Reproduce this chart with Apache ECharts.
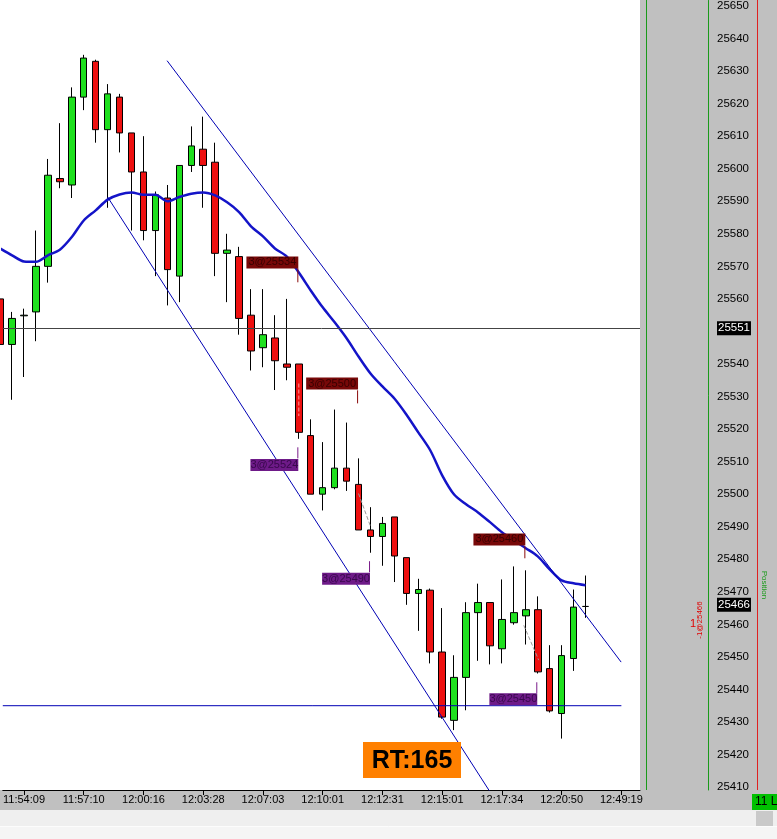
<!DOCTYPE html>
<html>
<head>
<meta charset="utf-8">
<style>
html, body { margin: 0; padding: 0; background: #fff; }
#chart { width: 777px; height: 839px; }
</style>
<script src="https://cdn.jsdelivr.net/npm/echarts@6/dist/echarts.min.js"></script>
</head>
<body>
<div id="chart"></div>
<script>
// time labels and the bar slots they sit on
var timeLabels = ['11:54:09', '11:57:10', '12:00:16', '12:03:28', '12:07:03', '12:10:01',
    '12:12:31', '12:15:01', '12:17:34', '12:20:50', '12:49:19'];
var labelSlots = [2, 7, 12, 17, 22, 27, 32, 37, 42, 47, 52];

var opens = [25560, 25546, 25554.8, 25556, 25570, 25597, 25595, 25622, 25633, 25612,
    25622, 25611, 25599, 25581, 25591, 25567, 25601, 25606, 25602, 25574,
    25573, 25555, 25545, 25548, 25540, 25540, 25518, 25500, 25502, 25508,
    25503, 25489, 25487, 25493, 25480.5, 25469.5, 25470.5, 25451.5, 25430.5, 25443.7,
    25463.6, 25466.7, 25452.5, 25460.5, 25462.6, 25464.5, 25446.4, 25432.6, 25449.5, 25465.5];
var closes = [25546, 25554, 25555, 25570, 25598, 25596, 25622, 25634, 25612, 25623,
    25611, 25599, 25581, 25592, 25569, 25601, 25607, 25601, 25574, 25575,
    25554, 25544, 25549, 25541, 25539, 25519, 25500, 25502, 25508, 25504,
    25489, 25487, 25491, 25481, 25469.5, 25470.7, 25451.5, 25431.5, 25443.7, 25463.6,
    25466.7, 25453.4, 25461.5, 25463.6, 25464.5, 25445.4, 25433.4, 25450.4, 25465.3, 25465.5];
var lows = [25540, 25529, 25536, 25547, 25565, 25594, 25591, 25618, 25608, 25588,
    25605, 25581, 25578, 25567, 25558, 25559, 25599, 25588, 25567, 25559,
    25549, 25538, 25539, 25532, 25535, 25517, 25500, 25495, 25501.5, 25501,
    25489, 25482, 25478, 25473, 25466, 25458, 25448, 25431, 25427.5, 25433.6,
    25448.8, 25447.7, 25448, 25459.9, 25453.8, 25444.9, 25432.9, 25424.9, 25445.7, 25462];
var highs = [25563, 25556, 25557, 25581, 25603, 25614, 25625, 25635, 25633.5, 25626,
    25623, 25611, 25610, 25593, 25595, 25601, 25613, 25616, 25608, 25580,
    25576, 25563, 25563, 25555, 25560, 25540, 25523, 25516, 25526, 25522,
    25511, 25496, 25493, 25493, 25480.5, 25474, 25471, 25465, 25450.5, 25466.8,
    25472.5, 25466.7, 25473.8, 25477.8, 25476.6, 25468.6, 25453.6, 25453.6, 25470.7, 25475];
var movingAvg = [25575.5, 25573.4, 25571.5, 25571.4, 25573.4, 25575.1, 25579.0, 25584.1, 25587.2, 25590.5,
    25592.1, 25592.7, 25592.0, 25592.0, 25590.0, 25591.3, 25592.3, 25592.7, 25591.8, 25589.7,
    25586.7, 25582.3, 25579.2, 25575.5, 25573.0, 25568.1, 25562.6, 25557.4, 25552.8, 25547.9,
    25542.3, 25537.1, 25533.1, 25529.4, 25524.5, 25519.0, 25513.5, 25505.8, 25499.9, 25496.9,
    25494.4, 25491.4, 25488.3, 25485.8, 25483.4, 25480.9, 25476.9, 25473.5, 25472.6, 25472.0];

var markPrice = 25551, lastPrice = 25466, supportPrice = 25435;
var channelUpper = [[13.975, 25633.2], [51.98, 25448.4]];
var channelLower = [[9.0, 25591.3], [41.5, 25405.7]];

// trade markers
var tradeText = ['3@25534', '3@25500', '3@25524', '3@25490', '3@25460', '3@25450'];
var tradeSide = ['sell', 'sell', 'buy', 'buy', 'sell', 'buy'];
var tradeSlot = [25, 30, 25, 31, 44, 45];
var tradeBoxPrice = [25571.2, 25534.0, 25509.0, 25474.0, 25486.1, 25437.0];
var tradeTick = [[25569.4, 25565.1], [25531.9, 25527.9], [25514.4, 25511.0],
    [25479.4, 25476.0], [25484.0, 25480.3], [25442.2, 25438.9]];
var tradeLinks = [[25, 25534, 25, 25524], [30, 25500.2, 31, 25490.1], [43.83, 25459.7, 45.08, 25449]];

var xMin = 0.225, xMax = 53.558;
var candles = opens.map(function (o, i) { return [i, o, closes[i], lows[i], highs[i]]; });
var maPoints = movingAvg.map(function (v, i) { return [i, v]; });

var font = 'Liberation Sans';
var sideColor = { sell: ['#780808', '#380000'], buy: ['#6e1a88', '#38084c'] };

var series = [];
series.push({
    type: 'candlestick',
    data: candles,
    encode: { x: 0, y: [1, 2, 3, 4] },
    barWidth: 7,
    itemStyle: {
        color: '#1ee01e', color0: '#ee1010',
        borderColor: '#000', borderColor0: '#000', borderColorDoji: '#000', borderWidth: 1
    },
    markLine: {
        symbol: 'none', silent: true, animation: false,
        data: [
            {
                yAxis: markPrice,
                lineStyle: { color: '#444', width: 1, type: 'solid' },
                label: { position: 'end', distance: 77, formatter: String(markPrice), color: '#fff',
                    backgroundColor: '#000', padding: [1, 1], fontSize: 11.5, fontFamily: font }
            },
            {
                yAxis: lastPrice,
                lineStyle: { color: 'rgba(0,0,0,0)', width: 0 },
                label: { position: 'end', distance: 77, formatter: String(lastPrice), color: '#fff',
                    backgroundColor: '#000', padding: [1, 1], fontSize: 11.5, fontFamily: font }
            }
        ]
    }
});
series.push({
    type: 'line', data: maPoints, smooth: 0.3, showSymbol: false,
    lineStyle: { color: '#1414c8', width: 2.5 }
});

function seg(points, color, width, type) {
    series.push({
        type: 'line', data: points, showSymbol: false, silent: true,
        lineStyle: { color: color, width: width, type: type || 'solid' }
    });
}
seg(channelUpper, '#0000b4', 1);
seg(channelLower, '#0000b4', 1);
seg([[xMin, supportPrice], [52, supportPrice]], '#0000b4', 1);
tradeLinks.forEach(function (l, i) {
    seg([[l[0], l[1]], [l[2], l[3]]], i === 0 ? '#ff9a9a' : '#9a9a9a', 1, 'dashed');
});
tradeTick.forEach(function (t, i) {
    seg([[tradeSlot[i] - 0.08, t[0]], [tradeSlot[i] - 0.08, t[1]]],
        tradeSide[i] === 'sell' ? '#8a0a0a' : '#7a1c8a', 1);
});
series.push({
    type: 'scatter', symbolSize: 1, silent: true, z: 5,
    itemStyle: { color: 'rgba(0,0,0,0)', opacity: 1 },
    label: { show: true, position: 'left', distance: 0, fontSize: 11, fontFamily: font, lineHeight: 12 },
    data: tradeText.map(function (t, i) {
        var c = sideColor[tradeSide[i]];
        return {
            value: [tradeSlot[i], tradeBoxPrice[i]],
            label: { formatter: t, backgroundColor: c[0], color: c[1],
                padding: tradeSide[i] === 'sell' ? [0, 2] : [0, 0] }
        };
    })
});

var chart = echarts.init(document.getElementById('chart'));
chart.setOption({
    animation: false,
    backgroundColor: '#fff',
    grid: { left: 0, top: 0, width: 640, height: 790 },
    xAxis: {
        type: 'value', min: xMin, max: xMax,
        axisLine: { onZero: false, lineStyle: { color: '#000', width: 1 } },
        axisTick: { show: true, customValues: labelSlots, length: 5, lineStyle: { color: '#000' } },
        axisLabel: {
            customValues: labelSlots, margin: 4, color: '#000', fontSize: 11, fontFamily: font,
            formatter: function (v) { return timeLabels[labelSlots.indexOf(Math.round(v))] || ''; }
        },
        splitLine: { show: false }
    },
    yAxis: {
        type: 'value', position: 'right', offset: 68,
        min: 25409.1, max: 25651.7, splitNumber: 24,
        axisLine: { show: true, onZero: false, lineStyle: { color: '#1a9a1a' } },
        axisTick: { show: false },
        splitLine: { show: false },
        axisLabel: { margin: 9, color: '#000', fontSize: 11.5, fontFamily: font,
            showMinLabel: false, showMaxLabel: false,
            formatter: function (v) { return String(Math.round(v)); } }
    },
    series: series,
    graphic: [
        { type: 'rect', z: -10, shape: { x: 640, y: 0, width: 137, height: 810 }, style: { fill: '#c0c0c0' } },
        { type: 'rect', z: -10, shape: { x: 0, y: 790, width: 777, height: 20 }, style: { fill: '#c0c0c0' } },
        { type: 'rect', z: -10, shape: { x: 0, y: 810, width: 777, height: 17 }, style: { fill: '#efefef' } },
        { type: 'rect', z: -10, shape: { x: 0, y: 827, width: 777, height: 12 }, style: { fill: '#f5f5f5' } },
        { type: 'line', z: -9, shape: { x1: 0, y1: 826.5, x2: 777, y2: 826.5 }, style: { stroke: '#fcfcfc', lineWidth: 1 } },
        { type: 'rect', z: -9, shape: { x: 756, y: 811, width: 17, height: 15 }, style: { fill: '#c9c9c9' } },
        { type: 'line', z: 1, shape: { x1: 646.5, y1: 0, x2: 646.5, y2: 790 }, style: { stroke: '#1a9a1a', lineWidth: 1 } },
        { type: 'line', z: 1, shape: { x1: 757.5, y1: 0, x2: 757.5, y2: 790 }, style: { stroke: '#e02020', lineWidth: 1 } },
        { type: 'rect', z: 10, shape: { x: 710, y: 790.5, width: 46, height: 8 }, style: { fill: '#c0c0c0' } },
        { type: 'rect', z: 10, shape: { x: 752, y: 794, width: 25, height: 16 }, style: { fill: '#00c000' } },
        { type: 'text', z: 11, x: 755, y: 802, style: { text: '11 L', fill: '#000', font: '12px ' + font, verticalAlign: 'middle' } },
        { type: 'rect', z: 10, shape: { x: 363, y: 742, width: 98, height: 36 }, style: { fill: '#ff8000' } },
        { type: 'text', z: 11, x: 412, y: 761, style: { text: 'RT:165', fill: '#000', font: 'bold 25px ' + font, align: 'center', verticalAlign: 'middle' } },
        { type: 'text', z: 11, x: 693, y: 624, style: { text: '1', fill: '#e00000', font: '11px ' + font, align: 'center', verticalAlign: 'middle' } },
        { type: 'text', z: 11, x: 700, y: 620, rotation: Math.PI / 2, style: { text: '-1@25466', fill: '#e00000', font: '8px ' + font, align: 'center', verticalAlign: 'middle' } },
        { type: 'text', z: 11, x: 764, y: 585, rotation: -Math.PI / 2, style: { text: 'Position', fill: '#1a9a1a', font: '8px ' + font, align: 'center', verticalAlign: 'middle' } }
    ]
});
</script>
</body>
</html>
